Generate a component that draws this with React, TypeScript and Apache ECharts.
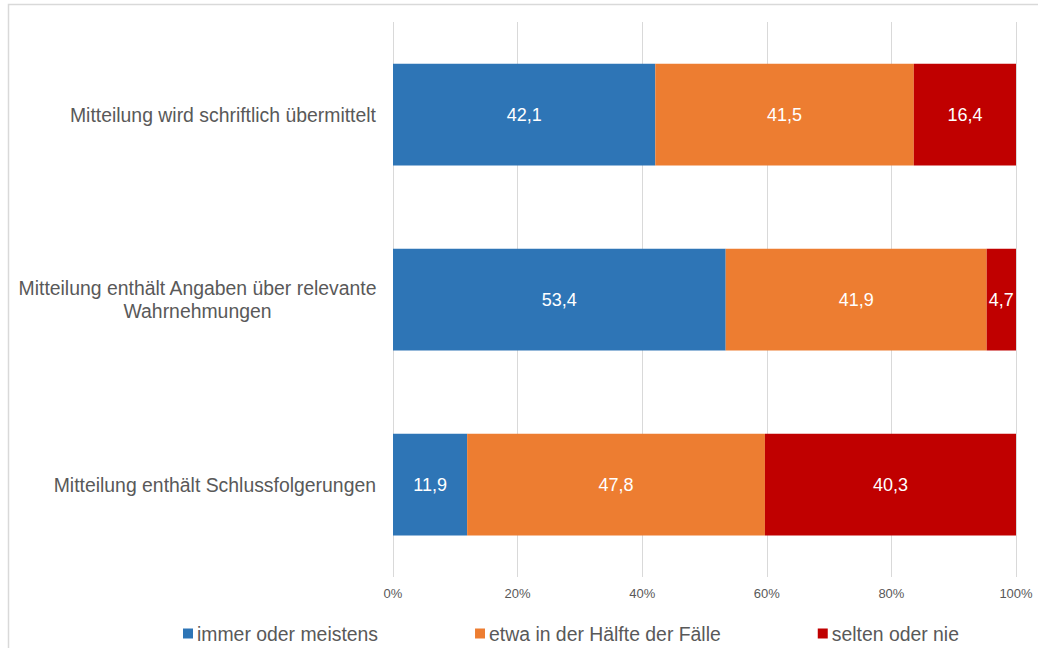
import React, { useEffect, useRef } from "react";
import * as echarts from "echarts";

const categories = [
  "Mitteilung wird schriftlich übermittelt",
  "Mitteilung enthält Angaben über relevante\nWahrnehmungen",
  "Mitteilung enthält Schlussfolgerungen",
];
const seriesNames = ["immer oder meistens", "etwa in der Hälfte der Fälle", "selten oder nie"];
const immer = [42.1, 53.4, 11.9];
const etwa = [41.5, 41.9, 47.8];
const selten = [16.4, 4.7, 40.3];
const colors = ["#2E75B6", "#ED7D31", "#C00000"];

const FONT = "'Liberation Sans', Arial, sans-serif";

export default function App() {
  const ref = useRef<HTMLDivElement>(null);
  useEffect(() => {
    if (!ref.current) return;
    const chart = echarts.init(ref.current, undefined, { renderer: "svg" });
    const mk = (name: string, data: number[], color: string) => ({
      name,
      type: "bar",
      stack: "total",
      data,
      barWidth: "55%",
      itemStyle: { color },
      label: {
        show: true,
        position: "inside",
        color: "#ffffff",
        fontSize: 18,
        fontFamily: FONT,
        formatter: (p: any) => String(p.value).replace(".", ","),
      },
    });
    chart.setOption({
      animation: false,
      textStyle: { fontFamily: FONT },
      graphic: [
        {
          type: "rect",
          shape: { x: 8.5, y: 4.5, width: 1100, height: 700 },
          style: { fill: "none", stroke: "#d9d9d9", lineWidth: 1.5 },
          silent: true,
        },
      ],
      grid: { left: 393, right: 22, top: 22, bottom: 71 },
      legend: {
        left: 183,
        top: 624,
        padding: 0,
        itemWidth: 10,
        itemHeight: 10,
        itemGap: 97,
        icon: "rect",
        textStyle: { color: "#595959", fontSize: 19.4, fontFamily: FONT, padding: [0, 0, 0, -1] },
        data: seriesNames,
      },
      xAxis: {
        type: "value",
        min: 0,
        max: 100,
        interval: 20,
        axisLine: { show: false },
        axisTick: { show: false },
        splitLine: { show: true, lineStyle: { color: "#d9d9d9", width: 1 } },
        axisLabel: {
          color: "#595959",
          fontSize: 13,
          fontFamily: FONT,
          margin: 10,
          formatter: (v: number) => v + "%",
        },
      },
      yAxis: {
        type: "category",
        inverse: true,
        data: categories,
        axisLine: { show: false },
        axisTick: { show: false },
        axisLabel: {
          color: "#595959",
          fontSize: 19.4,
          fontFamily: FONT,
          margin: 17,
          lineHeight: 23,
          formatter: (v: string) => {
            if (v.includes("\n")) {
              return v
                .split("\n")
                .map((s) => "{c|" + s + "}")
                .join("\n");
            }
            return v;
          },
          rich: {
            c: { width: 357, align: "center", fontSize: 19.4, lineHeight: 23, color: "#595959", fontFamily: FONT },
          },
        },
      },
      series: [
        mk(seriesNames[0], immer, colors[0]),
        mk(seriesNames[1], etwa, colors[1]),
        mk(seriesNames[2], selten, colors[2]),
      ],
    });
    return () => chart.dispose();
  }, []);
  return (
    <div
      ref={ref}
      style={{ position: "absolute", left: 0, top: 0, width: 1038, height: 648, background: "#ffffff" }}
    />
  );
}
